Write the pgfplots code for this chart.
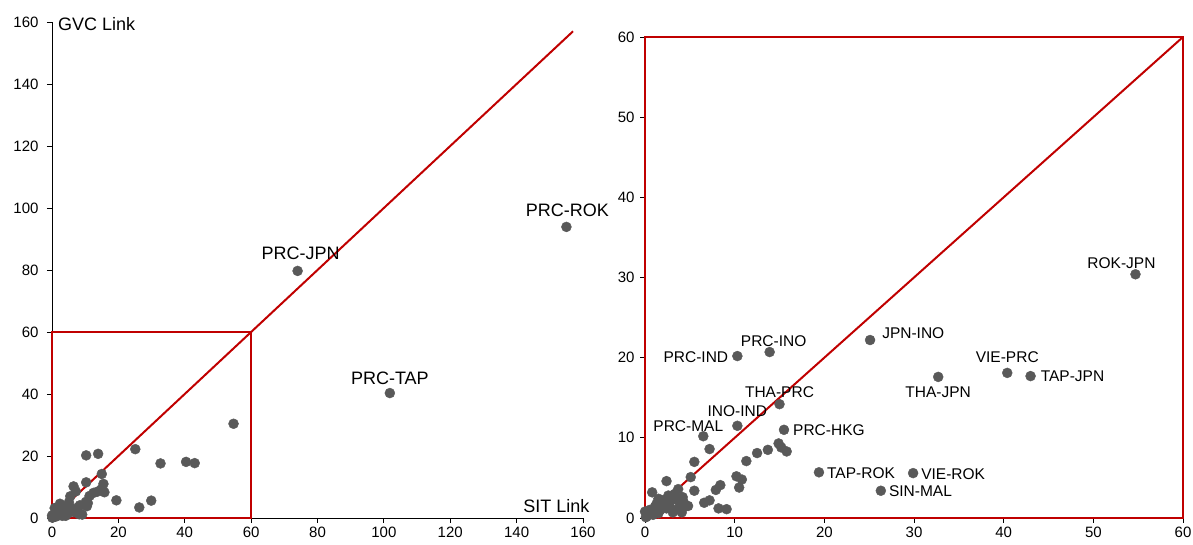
\documentclass[border=0pt]{standalone}
\usepackage{pgfplots}
\pgfplotsset{compat=1.18}
\usepackage{pgfplotstable}
\usepackage{fontspec}
\setmainfont{Liberation Sans}
\definecolor{dred}{RGB}{192,0,0}
\definecolor{dot}{RGB}{89,89,89}

\pgfplotstableread{
x y
54.7 30.4
25.1 22.2
40.4 18.1
43.0 17.7
32.7 17.6
10.3 20.2
13.9 20.7
15.0 14.2
10.3 11.5
6.5 10.2
15.5 11.0
19.4 5.7
29.9 5.6
26.3 3.4
7.2 8.6
14.9 9.3
15.2 8.8
15.8 8.3
13.7 8.5
12.5 8.1
11.3 7.1
10.2 5.2
10.8 4.8
10.5 3.8
5.5 7.0
5.1 5.1
5.5 3.4
8.4 4.1
7.9 3.5
7.2 2.2
6.6 1.9
8.2 1.2
9.1 1.1
2.4 4.6
0.8 3.2
3.7 3.6
4.8 1.5
4.1 0.7
3.1 0.7
1.3 1.8
2.0 2.2
2.8 2.0
3.5 2.3
3.9 1.6
4.3 2.0
4.6 1.5
0.5 1.0
1.7 1.0
2.4 1.2
3.2 1.0
3.7 1.1
0.2 0.2
0.0 0.8
0.9 0.4
1.1 1.4
2.6 2.8
3.3 3.0
0.3 0.5
1.5 0.6
2.0 1.5
0.1 0.1
4.2 2.6
1.5 2.4
}\pts

\pgfplotstableread{
x y
155.0 93.9
74.0 79.7
101.8 40.3
}\big

\begin{document}
\begin{tikzpicture}
\path[use as bounding box] (-52pt,-27pt) rectangle (1141pt,518pt);
\begin{axis}[
  at={(0pt,0pt)}, anchor=south west,
  scale only axis, width=531pt, height=496pt,
  xmin=0, xmax=160, ymin=0, ymax=160,
  axis x line=bottom, axis y line=left,
  axis line style={-, black, line width=0.8pt},
  xtick={0,20,...,160}, ytick={0,20,...,160},
  tick align=outside, major tick length=5pt,
  tick style={black, line width=0.8pt},
  xticklabel style={font=\fontsize{15}{17}\selectfont},
  yticklabel style={font=\fontsize{15}{17}\selectfont, xshift=-5pt},
  /pgf/number format/assume math mode=true,
  clip=false,
]
\addplot[only marks, mark=*, mark size=5pt, mark options={fill=dot, draw=dot}] table[x=x,y=y] {\pts};
\addplot[only marks, mark=*, mark size=5pt, mark options={fill=dot, draw=dot}] table[x=x,y=y] {\big};
\addplot[dred, line width=2pt] coordinates {(0,0) (157,157)};
\draw[dred, line width=2pt] (axis cs:0,0) rectangle (axis cs:60,60);
\begin{scope}[every node/.style={inner sep=0pt, font=\fontsize{18}{20}\selectfont}]
\node[anchor=base] at (axis cs:155,93.9) [xshift=1pt, yshift=10.5pt] {PRC-ROK};
\node[anchor=base] at (axis cs:74,79.7) [xshift=3pt, yshift=11.5pt] {PRC-JPN};
\node[anchor=base] at (axis cs:101.8,40.3) [yshift=8.5pt] {PRC-TAP};
\node[anchor=base west] at (axis cs:1.8,157.4) {GVC Link};
\node[anchor=base east] at (axis cs:162,0) [yshift=5pt] {SIT Link};
\end{scope}
\end{axis}

\begin{axis}[
  at={(593pt,0pt)}, anchor=south west,
  scale only axis, width=538pt, height=481pt,
  xmin=0, xmax=60, ymin=0, ymax=60,
  axis line style={dred, line width=2pt},
  xtick={0,10,...,60}, ytick={0,10,...,60},
  xtick pos=bottom, ytick pos=left,
  tick align=outside, major tick length=5pt,
  tick style={black, line width=0.8pt},
  xticklabel style={font=\fontsize{15}{17}\selectfont},
  yticklabel style={font=\fontsize{15}{17}\selectfont, xshift=-2pt},
  /pgf/number format/assume math mode=true,
  clip=false,
]
\addplot[only marks, mark=*, mark size=5pt, mark options={fill=dot, draw=dot}] table[x=x,y=y] {\pts};
\addplot[dred, line width=2pt] coordinates {(0,0) (60,60)};
\begin{scope}[every node/.style={inner sep=0pt, font=\fontsize{15.5}{17}\selectfont}]
\node[anchor=base] at (axis cs:54.7,30.4) [xshift=-14pt, yshift=6pt] {ROK-JPN};
\node[anchor=base west] at (axis cs:25.1,22.2) [xshift=12pt, yshift=2pt] {JPN-INO};
\node[anchor=base] at (axis cs:40.4,18.1) [yshift=10pt] {VIE-PRC};
\node[anchor=base west] at (axis cs:43.0,17.7) [xshift=10pt, yshift=-5pt] {TAP-JPN};
\node[anchor=base] at (axis cs:32.7,17.6) [yshift=-21pt] {THA-JPN};
\node[anchor=base east] at (axis cs:10.3,20.2) [xshift=-9pt, yshift=-6pt] {PRC-IND};
\node[anchor=base] at (axis cs:13.9,20.7) [xshift=4pt, yshift=6pt] {PRC-INO};
\node[anchor=base] at (axis cs:15.0,14.2) [yshift=7pt] {THA-PRC};
\node[anchor=base] at (axis cs:10.3,11.5) [yshift=9pt] {INO-IND};
\node[anchor=base] at (axis cs:6.5,10.2) [xshift=-15pt, yshift=5pt] {PRC-MAL};
\node[anchor=base west] at (axis cs:15.5,11.0) [xshift=9pt, yshift=-6pt] {PRC-HKG};
\node[anchor=base west] at (axis cs:19.4,5.7) [xshift=8pt, yshift=-6pt] {TAP-ROK};
\node[anchor=base west] at (axis cs:29.9,5.6) [xshift=8pt, yshift=-6pt] {VIE-ROK};
\node[anchor=base west] at (axis cs:26.3,3.4) [xshift=8pt, yshift=-6pt] {SIN-MAL};
\end{scope}
\end{axis}
\end{tikzpicture}
\end{document}
